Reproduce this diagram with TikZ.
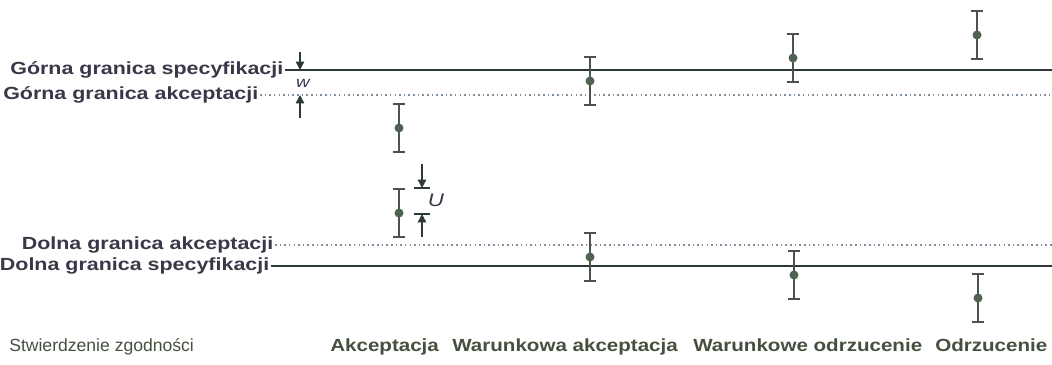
\documentclass[tikz,border=0pt]{standalone}
\usepackage{fontspec}
\setmainfont[FakeStretch=1.22]{Liberation Sans}
\newfontfamily\plainfont{Liberation Sans}
\newfontfamily\verdictfont[FakeStretch=1.17]{Liberation Sans}
\usetikzlibrary{arrows.meta}

\definecolor{limitcol}{HTML}{2E3838}
\definecolor{dotcol}{HTML}{7F8C9A}
\definecolor{labelcol}{HTML}{3A3848}
\definecolor{verdictcol}{HTML}{45503E}
\definecolor{barcol}{HTML}{4A5252}
\definecolor{meancol}{HTML}{4E6450}

\tikzset{
  limitlabel/.style={anchor=east, inner sep=1pt, text=labelcol, font=\bfseries\fontsize{12.5}{14}\selectfont},
  verdict/.style={anchor=base west, inner sep=0pt, text=verdictcol, font=\verdictfont\bfseries\fontsize{12.5}{14}\selectfont},
  speclimit/.style={draw=limitcol, line width=1.4pt},
  acclimit/.style={draw=dotcol, line width=1.1pt, dash pattern=on 1.1pt off 2.2pt},
  dimarrow/.style={draw=limitcol, line width=1pt, -{Triangle[width=6pt,length=6pt]}},
}

\begin{document}
\begin{tikzpicture}[x=0.025cm, y=-0.025cm]
\useasboundingbox (0,0) rectangle (1052,365);
\coordinate (rightedge) at (1052,0);

% limits
\node (gsl) [limitlabel] at (285,70) {Górna granica specyfikacji};
\node (gal) [limitlabel] at (260,95) {Górna granica akceptacji};
\node (dal) [limitlabel] at (275,245) {Dolna granica akceptacji};
\node (dsl) [limitlabel] at (271,266) {Dolna granica specyfikacji};

\draw[speclimit] (gsl.east) -- (gsl.east -| rightedge);
\draw[acclimit] (gal.east) -- (gal.east -| rightedge);
\draw[acclimit] (dal.east) -- (dal.east -| rightedge);
\draw[speclimit] (dsl.east) -- (dsl.east -| rightedge);

% guard band w
\coordinate (wtop) at (300,52);
\coordinate (wbot) at (300,118);
\draw[dimarrow] (wtop) -- (wtop |- gsl.east);
\draw[dimarrow] (wbot) -- (wbot |- gal.east);
\node (w) [text=labelcol, font=\itshape\fontsize{11}{12}\selectfont, inner sep=0pt] at (303,83) {w};

% uncertainty U
\coordinate (utop) at (422,188);
\coordinate (ubot) at (422,214);
\draw[dimarrow] (422,164) -- (utop);
\draw[dimarrow] (422,237) -- (ubot);
\draw[draw=limitcol, line width=1.1pt] ([xshift=-6]utop) -- ([xshift=6]utop);
\draw[draw=limitcol, line width=1.1pt] ([xshift=-6]ubot) -- ([xshift=6]ubot);
\node (u) [text=labelcol, font=\itshape\fontsize{13}{14}\selectfont, inner sep=0pt] at (436,200) {U};

% measurement results with uncertainty
\foreach \x/\y in {399/128, 399/213, 590/81, 590/257, 793/58, 794/275, 977/35, 978/298} {
  \draw[barcol, line width=1.1pt] (\x,\y-24) -- (\x,\y+24);
  \draw[barcol, line width=1.1pt] (\x-6,\y-24) -- (\x+6,\y-24);
  \draw[barcol, line width=1.1pt] (\x-6,\y+24) -- (\x+6,\y+24);
  \fill[meancol] (\x,\y) circle (3.2pt);
}

% verdicts
\node (zgodnosc) [verdict, font=\plainfont\fontsize{12.5}{14}\selectfont] at (9,352) {Stwierdzenie zgodności};
\node (akc) [verdict] at (330,352) {Akceptacja};
\node (wakc) [verdict] at (452,352) {Warunkowa akceptacja};
\node (wodrz) [verdict] at (693,352) {Warunkowe odrzucenie};
\node (odrz) [verdict] at (935,352) {Odrzucenie};

\end{tikzpicture}
\end{document}
